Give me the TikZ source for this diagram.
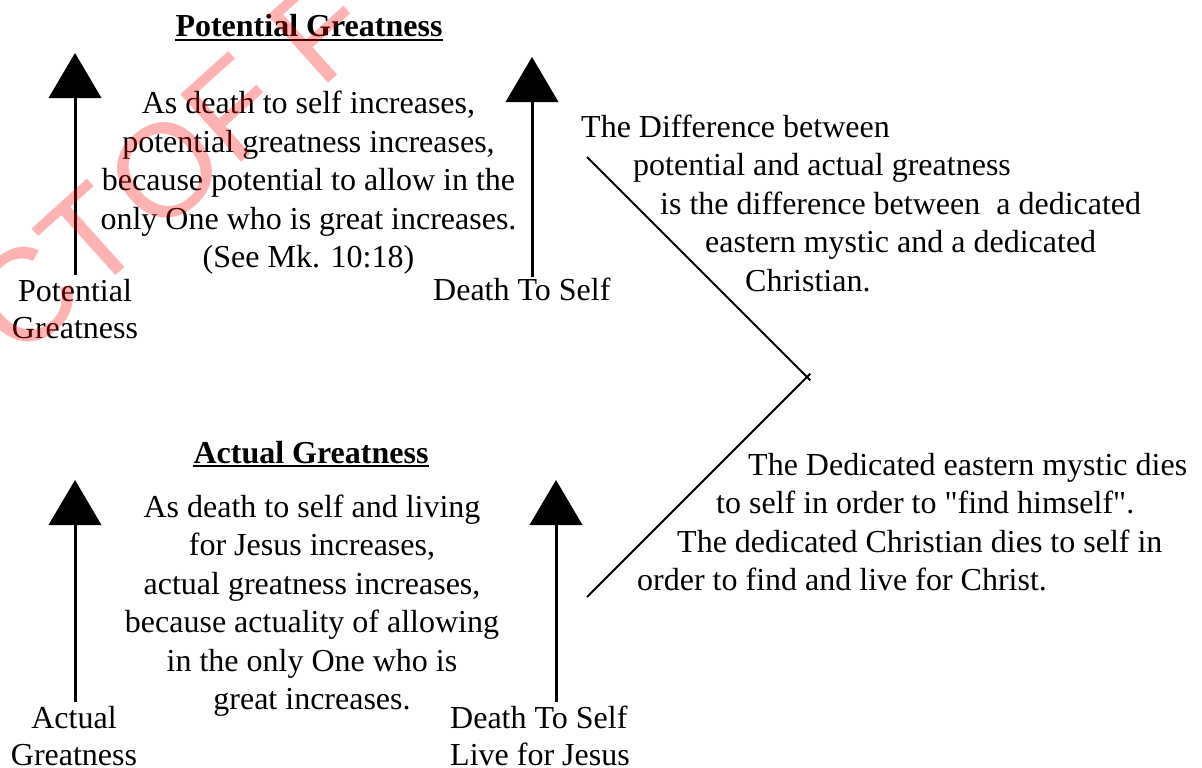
\documentclass[tikz,border=0pt]{standalone}
\usepackage{fontspec}
\setmainfont{Liberation Serif}[Ligatures=TeXOff]
\newfontfamily\wmfont{Liberation Sans}
\usetikzlibrary{arrows.meta,calc}

\begin{document}
\begin{tikzpicture}[x=1pt,y=-1pt,
  txt/.style={inner sep=0pt, font=\fontsize{32}{38.5}\selectfont},
  ttl/.style={inner sep=0pt, font=\fontsize{32}{38.5}\selectfont\bfseries},
  uline/.style={line width=1.6pt},
  riser/.style={line width=3pt, -{Triangle[width=53pt,length=45pt,line width=0pt]}},
  slant/.style={line width=2pt},
  wmark/.style={inner sep=0pt, text=red, text opacity=0.3,
    font=\wmfont\fontsize{132}{132}\selectfont, rotate=42}
]
\fill[white] (0,0) rectangle (1202,768);
\useasboundingbox (0,0) rectangle (1202,768);

% ---------- potential greatness ----------
\node[ttl, anchor=base] (ptitle) at (309,37) {Potential Greatness};
\draw[uline] ($(ptitle.base west)+(0,3)$) -- ($(ptitle.base east)+(0,3)$);

\coordinate (pgbot) at (75,275);  \coordinate (pgtop) at (75,53);
\coordinate (pdbot) at (532,277); \coordinate (pdtop) at (532,57);
\draw[riser] (pgbot) -- (pgtop);
\draw[riser] (pdbot) -- (pdtop);

\node[txt, anchor=base] (pga) at (75,301) {Potential};
\node[txt, anchor=base] (pgb) at (75,338) {Greatness};
\node[txt, anchor=base west] (pds) at (433,300) {Death To Self};

\node[txt, anchor=base] (p1) at (308.5,113.5) {As death to self increases,};
\node[txt, anchor=base] (p2) at (308.5,152) {potential greatness increases,};
\node[txt, anchor=base] (p3) at (308.5,190.5) {because potential to allow in the};
\node[txt, anchor=base] (p4) at (308.5,229) {only One who is great increases.};
\node[txt, anchor=base] (p5) at (308.5,267.5) {(See Mk. 10:18)};

% ---------- actual greatness ----------
\node[ttl, anchor=base] (atitle) at (311,463) {Actual Greatness};
\draw[uline] ($(atitle.base west)+(0,3)$) -- ($(atitle.base east)+(0,3)$);

\coordinate (agbot) at (75,702);  \coordinate (agtop) at (75,480);
\coordinate (adbot) at (556,702); \coordinate (adtop) at (556,480);
\draw[riser] (agbot) -- (agtop);
\draw[riser] (adbot) -- (adtop);

\node[txt, anchor=base] (aga) at (74,728) {Actual};
\node[txt, anchor=base] (agb) at (74,765) {Greatness};
\node[txt, anchor=base west] (ada) at (450,728) {Death To Self};
\node[txt, anchor=base west] (adb) at (450,765) {Live for Jesus};

\node[txt, anchor=base] (a1) at (312,517) {As death to self and living};
\node[txt, anchor=base] (a2) at (312,555.5) {for Jesus increases,};
\node[txt, anchor=base] (a3) at (312,594) {actual greatness increases,};
\node[txt, anchor=base] (a4) at (312,632.5) {because actuality of allowing};
\node[txt, anchor=base] (a5) at (312,671) {in the only One who is};
\node[txt, anchor=base] (a6) at (312,709.5) {great increases.};

% ---------- the difference ----------
\coordinate (dtop) at (587,157);
\coordinate (dvert) at (807,377);
\coordinate (dbot) at (587,597);
\draw[slant] (dtop) -- ($(dtop)!1.015!(dvert)$);
\draw[slant] (dbot) -- ($(dbot)!1.015!(dvert)$);

\node[txt, anchor=base west] (d1) at (581,137) {The Difference between};
\node[txt, anchor=base west] (d2) at (633,175.5) {potential and actual greatness};
\node[txt, anchor=base west] (d3) at (660,214) {is the difference between\ \ a dedicated};
\node[txt, anchor=base west] (d4) at (705,252.5) {eastern mystic and a dedicated};
\node[txt, anchor=base west] (d5) at (745,291) {Christian.};

\node[txt, anchor=base west] (m1) at (748,475) {The Dedicated eastern mystic dies};
\node[txt, anchor=base west] (m2) at (716,513) {to self in order to "find himself".};
\node[txt, anchor=base west] (m3) at (677,552) {The dedicated Christian dies to self in};
\node[txt, anchor=base west] (m4) at (637,590) {order to find and live for Christ.};

% ---------- stamp across the upper left ----------
\begin{scope}
  \clip (0,0) rectangle (1202,768);
  \node[wmark, anchor=base west] (wm) at (19.2,362.7) {CT\hspace{10pt}OF F};
\end{scope}
\end{tikzpicture}
\end{document}
